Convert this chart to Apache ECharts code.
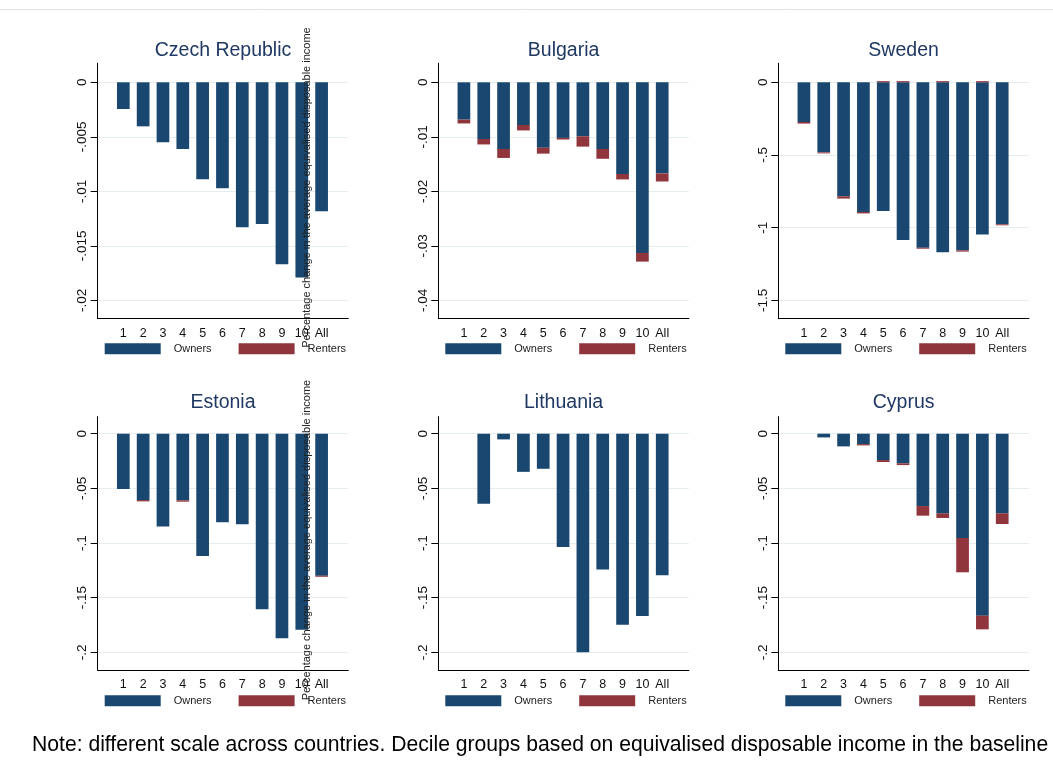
<!DOCTYPE html>
<html>
<head>
<meta charset="utf-8">
<title>Percentage change by decile, owners and renters</title>
<script src="https://cdn.jsdelivr.net/npm/echarts@6/dist/echarts.min.js"></script>
<style>
  html, body { margin: 0; padding: 0; background: #fff; }
  #main { width: 1053px; height: 771px; }
</style>
</head>
<body>
<div id="main"></div>
<script>
const categories = ['1', '2', '3', '4', '5', '6', '7', '8', '9', '10', 'All'];

const czechOwners = [-0.00245, -0.00404, -0.0055, -0.00612, -0.0089, -0.00972, -0.0133, -0.0130, -0.0167, -0.0179, -0.01183];
const czechRenters = [0, 0, 0, 0, 0, 0, 0, 0, 0, 0, 0];
const czechTicks = [0, -0.005, -0.01, -0.015, -0.02];

const bulgariaOwners = [-0.00685, -0.0104, -0.01223, -0.00783, -0.01199, -0.0102, -0.0099, -0.01223, -0.01682, -0.0313, -0.0167];
const bulgariaRenters = [-0.0007, -0.001, -0.00165, -0.001, -0.0011, -0.0003, -0.0019, -0.0018, -0.001, -0.0016, -0.0015];
const bulgariaTicks = [0, -0.01, -0.02, -0.03, -0.04];

const swedenOwners = [-0.273, -0.482, -0.784, -0.892, -0.885, -1.085, -1.138, -1.17, -1.156, -1.048, -0.977];
const swedenRenters = [-0.011, -0.007, -0.016, -0.01, 0.008, 0.008, -0.007, 0.008, -0.009, 0.008, -0.007];
const swedenTicks = [0, -0.5, -1, -1.5];

const estoniaOwners = [-0.0506, -0.0607, -0.0848, -0.0609, -0.1119, -0.0811, -0.0829, -0.1607, -0.1872, -0.1793, -0.1299];
const estoniaRenters = [0, -0.0012, 0, -0.0013, 0, 0, 0, 0, 0, 0, -0.001];

const lithuaniaOwners = [0, -0.0642, -0.0052, -0.0349, -0.0321, -0.1037, -0.2, -0.1242, -0.1749, -0.1667, -0.1294];
const lithuaniaRenters = [0, 0, 0, 0, 0, 0, 0, 0, 0, 0, 0];

const cyprusOwners = [0, -0.0034, -0.0116, -0.0095, -0.0241, -0.0271, -0.0662, -0.0729, -0.0954, -0.1665, -0.0729];
const cyprusRenters = [0, 0, 0, -0.0012, -0.0018, -0.0016, -0.0088, -0.0042, -0.0314, -0.0125, -0.0097];

const bottomTicks = [0, -0.05, -0.1, -0.15, -0.2];

const panels = [
  { name: 'Czech Republic', owners: czechOwners, renters: czechRenters, ticks: czechTicks },
  { name: 'Bulgaria', owners: bulgariaOwners, renters: bulgariaRenters, ticks: bulgariaTicks },
  { name: 'Sweden', owners: swedenOwners, renters: swedenRenters, ticks: swedenTicks },
  { name: 'Estonia', owners: estoniaOwners, renters: estoniaRenters, ticks: bottomTicks },
  { name: 'Lithuania', owners: lithuaniaOwners, renters: lithuaniaRenters, ticks: bottomTicks },
  { name: 'Cyprus', owners: cyprusOwners, renters: cyprusRenters, ticks: bottomTicks },
];

const yTitle = 'Percentage change in the average equivalised disposable income';
const note = 'Note: different scale across countries. Decile groups based on equivalised disposable income in the baseline';

const FONT = '"Liberation Sans", Arial, Helvetica, sans-serif';
const OWNER = '#1a476f';
const RENTER = '#90353b';

// layout of the 2x3 panels
const colLeft = [97.7, 438.3, 778.3];
const plotW = 250.6;
const bandPad = 15.7;      // empty space between the axis and the first / last bar slot
const bandW = 19.83;       // width of one bar slot
const rows = [
  { top: 63.3, h: 255.4, padTop: 0.0872, padBot: 0.0844, titleY: 50.7, legendTop: 343.3 },
  { top: 416.7, h: 253.3, padTop: 0.0778, padBot: 0.081, titleY: 402.7, legendTop: 695.3 },
];

const chart = echarts.init(document.getElementById('main'));

const grid = [], xAxis = [], yAxis = [], series = [], legend = [], texts = [];

const fmtY = (v) => (v === 0 ? '0' : String(v).replace('0.', '.'));

panels.forEach((p, i) => {
  const row = rows[Math.floor(i / 3)];
  const left = colLeft[i % 3];
  const low = p.ticks[p.ticks.length - 1];
  const span = -low;
  const yMin = low - row.padBot * span;
  const yMax = row.padTop * span;
  const frame = 2 * i, plot = 2 * i + 1;

  // frame grid: axis lines, y ticks and grid lines over the full width
  grid.push({ left: left, top: row.top, width: plotW, height: row.h });
  // plot grid: the bar slots, inset from the axes
  grid.push({ left: left + bandPad, top: row.top, width: bandW * categories.length, height: row.h });

  xAxis.push({
    type: 'value',
    gridIndex: frame,
    min: 0,
    max: 1,
    axisLine: { show: true, onZero: false, lineStyle: { color: '#000', width: 1 } },
    axisTick: { show: false },
    axisLabel: { show: false },
    splitLine: { show: false },
  });
  xAxis.push({
    type: 'category',
    gridIndex: plot,
    data: categories,
    axisLine: { show: false },
    axisTick: { show: false },
    axisLabel: { fontFamily: FONT, fontSize: 12.5, color: '#111', margin: 8, interval: 0 },
  });

  yAxis.push({
    type: 'value',
    gridIndex: frame,
    min: yMin,
    max: yMax,
    axisLine: { show: true, lineStyle: { color: '#000', width: 1 } },
    axisTick: { show: true, length: 7, customValues: p.ticks, lineStyle: { color: '#000' } },
    axisLabel: {
      customValues: p.ticks,
      formatter: fmtY,
      rotate: 90,
      fontFamily: FONT,
      fontSize: 13.5,
      color: '#111',
      margin: 8,
    },
    splitLine: { show: true, lineStyle: { color: '#e4edf0', width: 1 } },
  });
  yAxis.push({
    type: 'value',
    gridIndex: plot,
    min: yMin,
    max: yMax,
    show: false,
    splitLine: { show: false },
  });

  series.push({
    name: 'Owners',
    type: 'bar',
    xAxisIndex: plot,
    yAxisIndex: plot,
    stack: 'panel' + i,
    barWidth: 12.7,
    itemStyle: { color: OWNER },
    data: p.owners,
  });
  series.push({
    name: 'Renters',
    type: 'bar',
    xAxisIndex: plot,
    yAxisIndex: plot,
    stack: 'panel' + i,
    barWidth: 12.7,
    itemStyle: { color: RENTER },
    data: p.renters,
  });

  legend.push({
    left: left + 7,
    top: row.legendTop,
    padding: 0,
    orient: 'horizontal',
    icon: 'rect',
    itemWidth: 56,
    itemHeight: 11,
    itemGap: 27,
    selectedMode: false,
    data: ['Owners', 'Renters'],
    textStyle: { fontFamily: FONT, fontSize: 11, color: '#222', padding: [0, 0, 0, 8] },
  });

  texts.push({
    type: 'text',
    x: left + plotW / 2,
    y: row.titleY,
    style: {
      text: p.name, fontFamily: FONT, fontSize: 19.5, fill: '#1f3864',
      align: 'center', verticalAlign: 'middle',
    },
  });
});

const option = {
  backgroundColor: '#fff',
  animation: false,
  color: [OWNER, RENTER],
  legend,
  grid,
  xAxis,
  yAxis,
  series,
  graphic: texts.concat([
    {
      type: 'line',
      shape: { x1: 0, y1: 9.5, x2: 1053, y2: 9.5 },
      style: { stroke: '#e3e3e3', lineWidth: 1 },
    },
    {
      type: 'text',
      x: 307,
      y: 187.5,
      rotation: Math.PI / 2,
      style: { text: yTitle, fontFamily: FONT, fontSize: 11, fill: '#222', align: 'center', verticalAlign: 'middle' },
      z: 10,
    },
    {
      type: 'text',
      x: 307,
      y: 540,
      rotation: Math.PI / 2,
      style: { text: yTitle, fontFamily: FONT, fontSize: 11, fill: '#222', align: 'center', verticalAlign: 'middle' },
      z: 10,
    },
    {
      type: 'text',
      x: 32,
      y: 745,
      style: { text: note, fontFamily: FONT, fontSize: 21.15, fill: '#000', verticalAlign: 'middle' },
    },
  ]),
};

chart.setOption(option);
window.onresize = () => chart.resize();
</script>
</body>
</html>
